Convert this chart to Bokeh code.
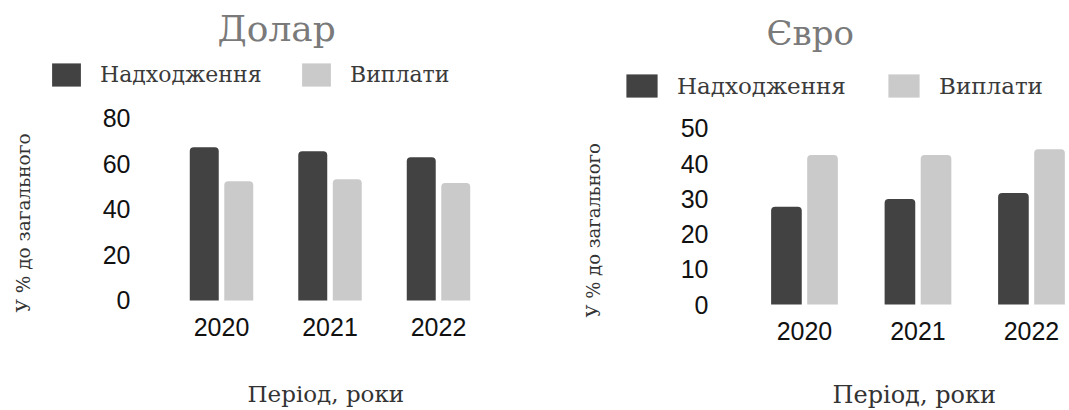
from bokeh.plotting import figure
from bokeh.models import Range1d, FixedTicker, ColumnDataSource, Legend, LegendItem, Title
from bokeh.transform import dodge
from bokeh.layouts import row
from bokeh.embed import file_html
from bokeh.resources import INLINE

years = ["2020", "2021", "2022"]
series_names = ["Надходження", "Виплати"]
usd_in = [67.4, 65.6, 63.0]
usd_out = [52.4, 53.3, 51.6]
eur_in = [27.8, 30.0, 31.7]
eur_out = [42.5, 42.5, 44.1]
usd_ticks = [0, 20, 40, 60, 80]
eur_ticks = [0, 10, 20, 30, 40, 50]
titles = ["Долар", "Євро"]
y_label = "У % до загального"
x_label = "Період, роки"

DARK = "#424242"
LIGHT = "#cacaca"
SERIF = "DejaVu Serif"
SANS = "Liberation Sans"
H = 409
FRAME_TOP = 52
FRAME_BOTTOM = 378


def make_chart(title, inflow, outflow, ticks, cfg):
    src = ColumnDataSource(dict(x=list(range(len(years))), inflow=inflow, outflow=outflow))
    p = figure(width=cfg["width"], height=H,
               x_range=Range1d(*cfg["xr"]), y_range=Range1d(*cfg["yr"]),
               output_backend="svg", toolbar_location=None,
               min_border_left=cfg["mbl"], min_border_right=0,
               min_border_top=FRAME_TOP, min_border_bottom=H - FRAME_BOTTOM)
    p.outline_line_color = None
    p.grid.visible = False
    p.background_fill_color = "white"
    p.border_fill_color = "white"

    r1 = p.vbar(x=dodge("x", -cfg["off"], range=p.x_range), top="inflow", width=cfg["bw"],
                source=src, fill_color=DARK, line_color=None, border_radius=(4, 4, 0, 0))
    r2 = p.vbar(x=dodge("x", cfg["off"], range=p.x_range), top="outflow", width=cfg["bw"],
                source=src, fill_color=LIGHT, line_color=None, border_radius=(4, 4, 0, 0))

    legend = Legend(items=[LegendItem(label=series_names[0], renderers=[r1]),
                           LegendItem(label=series_names[1], renderers=[r2])],
                    location=cfg["legloc"], orientation="horizontal",
                    glyph_width=cfg["gw"], glyph_height=29,
                    label_standoff=16, label_width=cfg["lw"], spacing=cfg["sp"],
                    padding=0, margin=0,
                    background_fill_alpha=0, border_line_alpha=0,
                    label_text_font=SERIF, label_text_font_size=cfg["lfs"],
                    label_text_color="#3a3a3a")
    p.add_layout(legend)

    p.title.text = title
    p.title.text_font = SERIF
    p.title.text_font_size = cfg["tfs"]
    p.title.text_font_style = "normal"
    p.title.text_color = "#7a7a7a"
    p.title.align = "left"
    p.title.offset = cfg["toff"]
    p.title.standoff = cfg["tstand"]

    # y axis, drawn inside the frame at a fixed x position
    ya = p.yaxis[0]
    ya.fixed_location = cfg["yfix"]
    ya.ticker = FixedTicker(ticks=ticks)
    ya.axis_line_color = None
    ya.major_tick_line_color = None
    ya.minor_tick_line_color = None
    ya.major_tick_out = 0
    ya.major_tick_in = 0
    ya.major_label_text_font = SANS
    ya.major_label_text_font_size = "25px"
    ya.major_label_text_color = "#111111"
    ya.major_label_standoff = 10

    # x axis, drawn at y = 0
    xa = p.xaxis[0]
    xa.fixed_location = 0
    xa.ticker = FixedTicker(ticks=list(range(len(years))))
    xa.major_label_overrides = {i: y for i, y in enumerate(years)}
    xa.axis_line_color = None
    xa.major_tick_line_color = None
    xa.minor_tick_line_color = None
    xa.major_tick_out = 0
    xa.major_tick_in = 0
    xa.major_label_text_font = SANS
    xa.major_label_text_font_size = "25px"
    xa.major_label_text_color = "#111111"
    xa.major_label_standoff = cfg["xlstand"]

    # axis titles
    yt = Title(text=y_label, align="left", offset=cfg["yoff"], standoff=cfg["ytstand"],
               text_font=SERIF, text_font_size=cfg["yfs"], text_font_style="normal",
               text_color="#333333")
    p.add_layout(yt, "left")
    xt = Title(text=x_label, align="left", offset=cfg["xoff"], standoff=0,
               text_font=SERIF, text_font_size=cfg["xfs"], text_font_style="normal",
               text_color="#333333")
    p.add_layout(xt, "below")
    return p


# left chart: frame x 42..530, bars centred at 221 + 108.5*i ; y: 0 at 300, 2.275 px/unit
left_cfg = dict(width=530, mbl=42,
                xr=(-1.65, 2.848), yr=(-34.29, 109.01), yfix=-0.7465,
                off=0.159, bw=0.267, tfs="36px", toff=175, tstand=8,
                xlstand=18, yoff=66, ytstand=18, yfs="18.5px", xoff=205, xfs="23px",
                legloc=(6, 289), gw=36, lw=170, sp=28, lfs="22px")
# right chart: frame x 615..1069 (page), bars centred at 804 + 113.5*i ; y: 0 at 304, 3.52 px/unit
right_cfg = dict(width=539, mbl=85,
                 xr=(-1.665, 2.335), yr=(-21.02, 71.59), yfix=-0.758,
                 off=0.159, bw=0.27, tfs="34px", toff=151, tstand=0,
                 xlstand=17, yoff=61, ytstand=24, yfs="18px", xoff=217, xfs="24px",
                 legloc=(7, 278), gw=39, lw=180, sp=27, lfs="23px")

p1 = make_chart(titles[0], usd_in, usd_out, usd_ticks, left_cfg)
p2 = make_chart(titles[1], eur_in, eur_out, eur_ticks, right_cfg)

layout = row(p1, p2)
open("out.html", "w").write(file_html(layout, INLINE))
